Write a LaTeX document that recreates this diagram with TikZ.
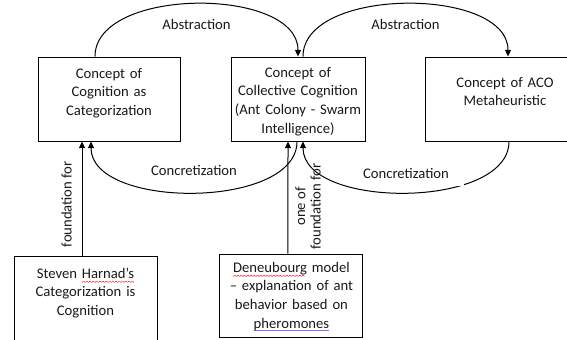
\documentclass[tikz,border=0pt]{standalone}
\usepackage{fontspec}
\setmainfont{Carlito}
\usetikzlibrary{arrows.meta}

\newsavebox\errbox
\newcommand\zig{\hbox{\rotatebox{40}{\rule{1.3pt}{0.35pt}}\raisebox{0.84pt}{\rotatebox{-40}{\rule{1.3pt}{0.35pt}}}}}
\newcommand\spellerr[1]{\sbox\errbox{#1}\leavevmode\rlap{\raisebox{-3.4pt}[0pt][0pt]{\hbox to\wd\errbox{\color{red}\leaders\zig\hfill}}}#1}
\newcommand\grammarerr[1]{\sbox\errbox{#1}\leavevmode\rlap{\color{blue!55}\rule[-2.4pt]{\wd\errbox}{0.6pt}}#1}

\tikzstyle{concept} = [rectangle, draw=black, line width=0.75pt, inner sep=0pt, align=center, text=black!90, font=\fontsize{11}{14}\selectfont]
\tikzstyle{lbl} = [text=black!90, font=\fontsize{11}{14}\selectfont]
\tikzstyle{arrow} = [line width=0.75pt, -{Triangle[length=5pt, width=4.5pt]}]

\begin{document}
\begin{tikzpicture}[x=0.75pt, y=-0.75pt, node distance=141.75pt]
        \useasboundingbox (0,0) rectangle (567,339);
        \node (con1) [concept, text width=106.5pt, text height=15.75pt, text depth=47.25pt] at (109,99) {Concept of\\Cognition as\\Categorization};
        \node (con2) [concept, right of=con1, text width=100.5pt, text height=15pt, text depth=48pt] {Concept of\\Collective Cognition\\(Ant Colony - Swarm\\Intelligence)};
        \node (con3) [concept, right of=con2, xshift=13.5pt, text width=120pt, text height=22.5pt, text depth=40.5pt] {Concept of ACO\\Metaheuristic};
        \node (base1) [concept, below of=con1, node distance=155.25pt, xshift=-17.625pt, text width=107.25pt, text height=16.5pt, text depth=58.5pt] {Steven \spellerr{Harnad's}\\Categorization is\\Cognition};
        \node (base2) [concept, below of=con2, node distance=147.4pt, xshift=-4.9pt, text width=107.25pt, text height=13.5pt, text depth=48.75pt] {\spellerr{Deneubourg} model\\-- explanation of ant\\behavior based on\\\grammarerr{pheromones}};
        \draw [arrow] ([xshift=-10.5pt]con1.north) .. controls +(0,-70) and +(0,-70) .. (con2.north) node[lbl, pos=0.5, below=8pt]{Abstraction};
        \draw [arrow] ([xshift=3.75pt]con2.north) .. controls +(0,-70) and +(0,-70) .. ([xshift=2.25pt]con3.north) node[lbl, pos=0.5, below=8pt]{Abstraction};
        \draw [arrow] ([xshift=-0.75pt]con2.south) .. controls +(0,68) and +(0,68) .. ([xshift=-13.5pt]con1.south) node[lbl, pos=0.5, above=9pt]{Concretization};
        \draw [arrow] ([xshift=3pt]con3.south) .. controls +(0,68) and +(0,68) .. ([xshift=3.75pt]con2.south) node[lbl, pos=0.5, above=4.5pt, fill=white, inner sep=0pt, minimum width=87pt, minimum height=19.5pt]{Concretization};
        \draw [arrow] ([xshift=-2.625pt]base1.north) -- ([xshift=-20.25pt]con1.south) node[lbl, sloped, pos=0.45, above=4pt]{foundation for};
        \draw [arrow] ([xshift=-2.625pt]base2.north) -- ([xshift=-7.5pt]con2.south) node[lbl, sloped, pos=0.42, below=1.7pt, align=center, font=\fontsize{11}{11.6}\selectfont]{one of\\foundation for};
\end{tikzpicture}
\end{document}
